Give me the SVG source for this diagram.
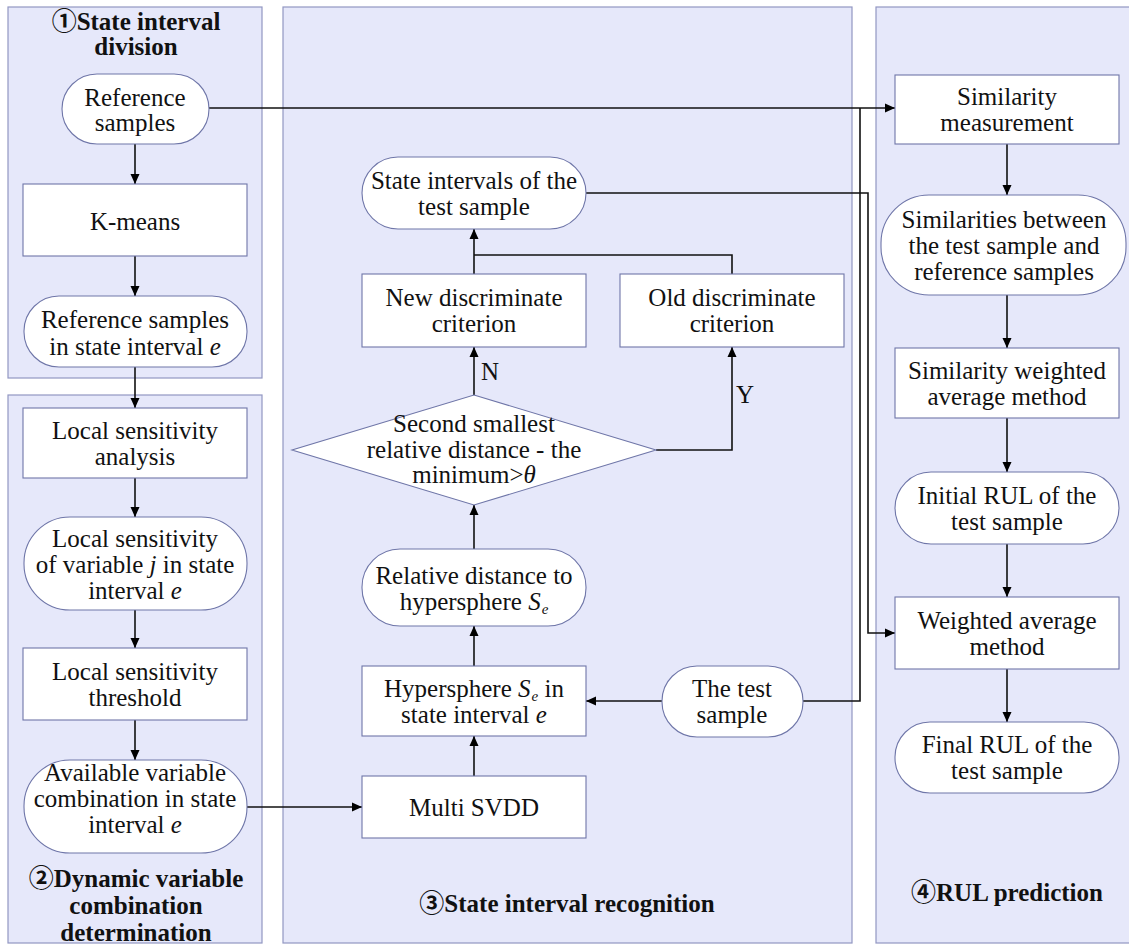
<svg xmlns="http://www.w3.org/2000/svg" width="1129" height="944" viewBox="0 0 1129 944">
<defs>
<marker id="ah" markerUnits="userSpaceOnUse" markerWidth="10" markerHeight="10" viewBox="0 0 10 10" refX="10" refY="5" orient="auto">
<path d="M0,0.5 L10,5 L0,9.5 Z" fill="#000"/>
</marker>
<style>
.panel{fill:#E6E8FA;stroke:#9297C2;stroke-width:1.2}
.nd{fill:#fff;stroke:#6F76A8;stroke-width:1.1}
.t{font-family:"Liberation Serif","Times New Roman","Noto Sans CJK SC",serif;font-size:25px;fill:#111;text-anchor:middle}
.b{font-weight:bold}
.c{fill:none;stroke:#111;stroke-width:1.6}
.ca{fill:none;stroke:#111;stroke-width:1.6;marker-end:url(#ah)}
.i{font-style:italic}
.sub{font-style:italic;font-size:15px}
</style>
</defs>
<g id="panels">
<rect class="panel" x="8" y="7" width="254" height="371"/>
<rect class="panel" x="8" y="395" width="254" height="548"/>
<rect class="panel" x="283" y="7" width="569" height="936"/>
<rect class="panel" x="876" y="7" width="262" height="936"/>
</g>
<g id="titles">
<text class="t b" x="136" y="30">①State interval</text>
<text class="t b" x="136" y="55">division</text>
<text class="t b" x="136" y="887">②Dynamic variable</text>
<text class="t b" x="136" y="914">combination</text>
<text class="t b" x="136" y="941">determination</text>
<text class="t b" x="567" y="912">③State interval recognition</text>
<text class="t b" x="1007" y="901">④RUL prediction</text>
</g>
<g id="connectors">
<line class="ca" x1="135" y1="144" x2="135" y2="184"/>
<line class="ca" x1="135" y1="256" x2="135" y2="296"/>
<line class="ca" x1="135" y1="367" x2="135" y2="408"/>
<line class="ca" x1="135" y1="478" x2="135" y2="517"/>
<line class="ca" x1="135" y1="610" x2="135" y2="648"/>
<line class="ca" x1="135" y1="720" x2="135" y2="760"/>
<line class="ca" x1="247" y1="807" x2="362" y2="807"/>
<line class="ca" x1="209" y1="108" x2="895" y2="108"/>
<polyline class="ca" points="586,193 868,193 868,633 895,633"/>
<polyline class="c" points="803,701 860,701 860,108"/>
<line class="ca" x1="662" y1="701" x2="586" y2="701"/>
<line class="ca" x1="474" y1="776" x2="474" y2="736"/>
<line class="ca" x1="474" y1="666" x2="474" y2="626"/>
<line class="ca" x1="474" y1="549" x2="474" y2="505"/>
<line class="ca" x1="474" y1="395" x2="474" y2="347"/>
<polyline class="ca" points="656,450 732,450 732,347"/>
<line class="ca" x1="474" y1="274" x2="474" y2="229"/>
<polyline class="c" points="732,274 732,255 474,255"/>
<line class="ca" x1="1007" y1="144" x2="1007" y2="195"/>
<line class="ca" x1="1007" y1="295" x2="1007" y2="348"/>
<line class="ca" x1="1007" y1="418" x2="1007" y2="472"/>
<line class="ca" x1="1007" y1="544" x2="1007" y2="597"/>
<line class="ca" x1="1007" y1="669" x2="1007" y2="722"/>
<text class="t" x="490" y="380">N</text>
<text class="t" x="745" y="403">Y</text>
</g>
<g id="ref-samples">
<rect class="nd" x="62" y="74" width="147" height="70" rx="35" ry="35"/>
<text class="t" x="135" y="106">Reference</text>
<text class="t" x="135" y="131">samples</text>
</g>
<g id="kmeans">
<rect class="nd" x="23" y="184" width="224" height="72"/>
<text class="t" x="135" y="230">K-means</text>
</g>
<g id="ref-interval">
<rect class="nd" x="24" y="296" width="223" height="71" rx="35" ry="35"/>
<text class="t" x="135" y="328">Reference samples</text>
<text class="t" x="135" y="355">in state interval <tspan class="i">e</tspan></text>
</g>
<g id="lsa">
<rect class="nd" x="23" y="408" width="224" height="70"/>
<text class="t" x="135" y="439">Local sensitivity</text>
<text class="t" x="135" y="465">analysis</text>
</g>
<g id="lsv">
<rect class="nd" x="24" y="517" width="223" height="93" rx="46" ry="46"/>
<text class="t" x="135" y="547">Local sensitivity</text>
<text class="t" x="135" y="573">of variable <tspan class="i">j</tspan> in state</text>
<text class="t" x="135" y="599">interval <tspan class="i">e</tspan></text>
</g>
<g id="lst">
<rect class="nd" x="23" y="648" width="224" height="72"/>
<text class="t" x="135" y="680">Local sensitivity</text>
<text class="t" x="135" y="706">threshold</text>
</g>
<g id="avc">
<rect class="nd" x="24" y="760" width="223" height="93" rx="46" ry="46"/>
<text class="t" x="135" y="781">Available variable</text>
<text class="t" x="135" y="807">combination in state</text>
<text class="t" x="135" y="833">interval <tspan class="i">e</tspan></text>
</g>
<g id="state-intervals">
<rect class="nd" x="362" y="157" width="224" height="72" rx="36" ry="36"/>
<text class="t" x="474" y="189">State intervals of the</text>
<text class="t" x="474" y="215">test sample</text>
</g>
<g id="new-crit">
<rect class="nd" x="362" y="274" width="224" height="73"/>
<text class="t" x="474" y="306">New discriminate</text>
<text class="t" x="474" y="332">criterion</text>
</g>
<g id="old-crit">
<rect class="nd" x="620" y="274" width="224" height="73"/>
<text class="t" x="732" y="306">Old discriminate</text>
<text class="t" x="732" y="332">criterion</text>
</g>
<g id="decision">
<polygon class="nd" points="474,395 656,450 474,505 292,450"/>
<text class="t" x="474" y="432">Second smallest</text>
<text class="t" x="474" y="458">relative distance - the</text>
<text class="t" x="474" y="483">minimum&gt;<tspan class="i">θ</tspan></text>
</g>
<g id="rel-dist">
<rect class="nd" x="362" y="549" width="224" height="77" rx="38" ry="38"/>
<text class="t" x="474" y="610">hypersphere <tspan class="i">S</tspan><tspan class="sub" dx="1" baseline-shift="-4">e</tspan></text>
<text class="t" x="474" y="584">Relative distance to</text>
</g>
<g id="hypersphere">
<rect class="nd" x="362" y="666" width="224" height="70"/>
<text class="t" x="474" y="697">Hypersphere <tspan class="i">S</tspan><tspan class="sub" dx="1" baseline-shift="-4">e</tspan> in</text>
<text class="t" x="474" y="723">state interval <tspan class="i">e</tspan></text>
</g>
<g id="multi-svdd">
<rect class="nd" x="362" y="776" width="224" height="62"/>
<text class="t" x="474" y="816">Multi SVDD</text>
</g>
<g id="test-sample">
<rect class="nd" x="662" y="666" width="141" height="71" rx="35" ry="35"/>
<text class="t" x="732" y="697">The test</text>
<text class="t" x="732" y="723">sample</text>
</g>
<g id="sim-meas">
<rect class="nd" x="895" y="75" width="224" height="69"/>
<text class="t" x="1007" y="105">Similarity</text>
<text class="t" x="1007" y="131">measurement</text>
</g>
<g id="similarities">
<rect class="nd" x="881" y="195" width="245" height="100" rx="48" ry="48"/>
<text class="t" x="1004" y="228">Similarities between</text>
<text class="t" x="1004" y="254">the test sample and</text>
<text class="t" x="1004" y="280">reference samples</text>
</g>
<g id="sim-weighted">
<rect class="nd" x="895" y="348" width="224" height="70"/>
<text class="t" x="1007" y="379">Similarity weighted</text>
<text class="t" x="1007" y="405">average method</text>
</g>
<g id="initial-rul">
<rect class="nd" x="895" y="472" width="224" height="72" rx="36" ry="36"/>
<text class="t" x="1007" y="504">Initial RUL of the</text>
<text class="t" x="1007" y="530">test sample</text>
</g>
<g id="weighted-avg">
<rect class="nd" x="895" y="597" width="224" height="72"/>
<text class="t" x="1007" y="629">Weighted average</text>
<text class="t" x="1007" y="655">method</text>
</g>
<g id="final-rul">
<rect class="nd" x="895" y="722" width="224" height="71" rx="35" ry="35"/>
<text class="t" x="1007" y="753">Final RUL of the</text>
<text class="t" x="1007" y="779">test sample</text>
</g>
</svg>
